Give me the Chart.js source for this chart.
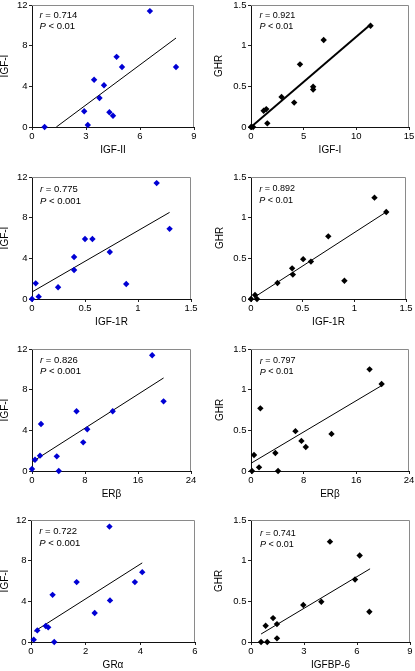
<!DOCTYPE html>
<html><head><meta charset="utf-8">
<script src="https://cdn.jsdelivr.net/npm/chart.js@4"></script>
<style>
html,body{margin:0;padding:0;background:#fff;overflow:hidden}
#wrap{position:relative;width:415px;height:671px;background:#fff}
canvas{position:absolute;left:0;top:0}
</style></head><body><div id="wrap"></div>
<script>
// ---------- data ----------
// Panel 1: IGF-I vs IGF-II
const p1X = [0.7, 6.55, 4.7, 5.0, 8.0, 3.45, 4.0, 3.75, 2.9, 4.3, 4.5, 3.1];
const p1Y = [0, 11.4, 6.9, 5.9, 5.9, 4.65, 4.1, 2.85, 1.55, 1.45, 1.1, 0.2];
const p1FitX = [1.35, 8.0];
const p1FitY = [0, 8.75];
// Panel 2: GHR vs IGF-I
const p2X = [11.35, 6.9, 4.65, 5.9, 5.9, 2.9, 4.1, 1.45, 1.2, 1.55, 0.2, 0.0];
const p2Y = [1.245, 1.07, 0.77, 0.495, 0.46, 0.37, 0.30, 0.22, 0.20, 0.045, 0, 0];
const p2FitX = [0, 11.35];
const p2FitY = [0, 1.26];
// Panel 3: IGF-I vs IGF-1R
const p3X = [1.176, 1.298, 0.50, 0.57, 0.734, 0.397, 0.397, 0.035, 0.889, 0.246, 0.063, 0.0];
const p3Y = [11.4, 6.9, 5.9, 5.9, 4.62, 4.13, 2.85, 1.54, 1.48, 1.15, 0.23, 0];
const p3FitX = [0, 1.298];
const p3FitY = [0.69, 8.52];
// Panel 4: GHR vs IGF-1R
const p4X = [1.195, 1.309, 0.748, 0.505, 0.58, 0.398, 0.405, 0.904, 0.256, 0.039, 0.058, 0];
const p4Y = [1.246, 1.07, 0.77, 0.49, 0.46, 0.377, 0.30, 0.225, 0.197, 0.049, 0, 0];
const p4FitX = [0.03, 1.309];
const p4FitY = [0.02, 1.07];
// Panel 5: IGF-I vs ERβ
const p5X = [18.14, 19.86, 6.72, 12.18, 1.36, 8.34, 7.73, 1.21, 3.74, 0.45, 0.0, 4.04];
const p5Y = [11.38, 6.85, 5.87, 5.87, 4.62, 4.10, 2.82, 1.51, 1.44, 1.11, 0.2, 0];
const p5FitX = [0.15, 19.86];
const p5FitY = [0.95, 9.15];
// Panel 6: GHR vs ERβ
const p6X = [18.01, 19.84, 1.42, 6.75, 12.23, 7.66, 8.32, 3.70, 0.46, 1.22, 4.11, 0.15];
const p6Y = [1.25, 1.07, 0.77, 0.49, 0.456, 0.37, 0.296, 0.222, 0.197, 0.045, 0, 0];
const p6FitX = [0, 19.84];
const p6FitY = [0.095, 1.05];
// Panel 7: IGF-I vs GRα
const p7X = [2.87, 4.07, 1.67, 3.80, 0.79, 2.89, 2.33, 0.54, 0.63, 0.23, 0.10, 0.85];
const p7Y = [11.35, 6.87, 5.89, 5.89, 4.64, 4.09, 2.85, 1.57, 1.44, 1.14, 0.23, 0];
const p7FitX = [0.13, 4.07];
const p7FitY = [1.05, 7.78];
// Panel 8: GHR vs IGFBP-6
const p8X = [4.47, 6.15, 5.89, 3.98, 2.96, 6.7, 1.25, 0.83, 1.47, 1.47, 0.57, 0.92];
const p8Y = [1.234, 1.063, 0.768, 0.494, 0.454, 0.372, 0.294, 0.2, 0.22, 0.045, 0, 0];
const p8FitX = [0.57, 6.74];
const p8FitY = [0.098, 0.9];

// tick labels
const ticksIGF2 = [0, 3, 6, 9];
const ticksIGF1y = [0, 4, 8, 12];
const ticksIGF1x = [0, 5, 10, 15];
const ticksGHR = [0, 0.5, 1, 1.5];
const ticksIGF1R = [0, 0.5, 1, 1.5];
const ticksERb = [0, 8, 16, 24];
const ticksGRa = [0, 2, 4, 6];
const ticksIGFBP6 = [0, 3, 6, 9];

// r / P annotations
const rVals = ['0.714', '0.921', '0.775', '0.892', '0.826', '0.797', '0.722', '0.741'];
const pVals = ['0.01', '0.01', '0.001', '0.01', '0.001', '0.01', '0.001', '0.01'];

// ---------- styling / layout ----------
const FONT = "'Liberation Sans', Arial, Helvetica, sans-serif";
const BLUE = '#0000d4';
const BLACK = '#000000';

const panels = [
  {xs:p1X, ys:p1Y, fx:p1FitX, fy:p1FitY, xt:ticksIGF2,  yt:ticksIGF1y, xTitle:'IGF-II',  yTitle:'IGF-I', color:BLUE,  area:[32,5,194,127],   yTitleX:5,     lw:1, annSize:9.5, ann:[7.5,10.8,21.8]},
  {xs:p2X, ys:p2Y, fx:p2FitX, fy:p2FitY, xt:ticksIGF1x, yt:ticksGHR,   xTitle:'IGF-I',   yTitle:'GHR',   color:BLACK, area:[251,5,409,127],  yTitleX:219.7, lw:2, annSize:9,   ann:[8.5,10.8,21.8]},
  {xs:p3X, ys:p3Y, fx:p3FitX, fy:p3FitY, xt:ticksIGF1R, yt:ticksIGF1y, xTitle:'IGF-1R',  yTitle:'IGF-I', color:BLUE,  area:[32,177,191,299], yTitleX:5,     lw:1, annSize:9.5, ann:[8,12.8,24]},
  {xs:p4X, ys:p4Y, fx:p4FitX, fy:p4FitY, xt:ticksIGF1R, yt:ticksGHR,   xTitle:'IGF-1R',  yTitle:'GHR',   color:BLACK, area:[251,177,406,299],yTitleX:220,   lw:1, annSize:9,   ann:[8.3,12,23.3]},
  {xs:p5X, ys:p5Y, fx:p5FitX, fy:p5FitY, xt:ticksERb,   yt:ticksIGF1y, xTitle:'ERβ',     yTitle:'IGF-I', color:BLUE,  area:[32,349,191,471], yTitleX:5,     lw:1, annSize:9.5, ann:[8,11.7,22.7]},
  {xs:p6X, ys:p6Y, fx:p6FitX, fy:p6FitY, xt:ticksERb,   yt:ticksGHR,   xTitle:'ERβ',     yTitle:'GHR',   color:BLACK, area:[251,349,409,471],yTitleX:220,   lw:1, annSize:9,   ann:[8.7,12,23]},
  {xs:p7X, ys:p7Y, fx:p7FitX, fy:p7FitY, xt:ticksGRa,   yt:ticksIGF1y, xTitle:'GRα',     yTitle:'IGF-I', color:BLUE,  area:[31,520,195,642], yTitleX:5,     lw:1, annSize:9.5, ann:[8.3,11,23]},
  {xs:p8X, ys:p8Y, fx:p8FitX, fy:p8FitY, xt:ticksIGFBP6,yt:ticksGHR,   xTitle:'IGFBP-6', yTitle:'GHR',   color:BLACK, area:[251,520,410,642],yTitleX:219.5, lw:1, annSize:9,   ann:[9,13.3,24.6]}
];

const framePlugin = {
  id: 'frame',
  beforeDatasetsDraw(chart) {
    const {ctx, chartArea: a} = chart;
    ctx.save();
    ctx.strokeStyle = '#8a8a8a';
    ctx.lineWidth = 1;
    ctx.beginPath();
    const t = Math.round(a.top) + 0.5, r = Math.round(a.right) - 0.5;
    ctx.moveTo(Math.round(a.left), t);
    ctx.lineTo(r, t);
    ctx.lineTo(r, Math.round(a.bottom));
    ctx.stroke();
    ctx.restore();
  }
};

function annPlugin(i, pn) {
  return {
    id: 'ann' + i,
    afterDraw(chart) {
      const {ctx, chartArea: a} = chart;
      const [dx, dy1, dy2] = pn.ann;
      const size = pn.annSize;
      ctx.save();
      ctx.fillStyle = '#000';
      ctx.textBaseline = 'middle';
      ctx.textAlign = 'left';
      const x = a.left + dx;
      ctx.font = `italic ${size}px ${FONT}`;
      ctx.fillText('r', x, a.top + dy1);
      let w = ctx.measureText('r').width;
      ctx.font = `${size}px ${FONT}`;
      ctx.fillText(' = ' + rVals[i], x + w, a.top + dy1);
      ctx.font = `italic ${size}px ${FONT}`;
      ctx.fillText('P', x, a.top + dy2);
      w = ctx.measureText('P').width;
      ctx.font = `${size}px ${FONT}`;
      ctx.fillText(' < ' + pVals[i], x + w, a.top + dy2);
      ctx.restore();
    }
  };
}

const wrap = document.getElementById('wrap');
const W = 415, H = 671;

panels.forEach((pn, i) => {
  const c = document.createElement('canvas');
  c.width = W; c.height = H;
  c.style.width = W + 'px'; c.style.height = H + 'px';
  wrap.appendChild(c);
  const [L, T, R, B] = pn.area;
  const xH = 28.7;
  const yPadLeft = Math.max(0, pn.yTitleX - 5);
  const yW = L - yPadLeft;
  const zeroPad = s => { s.paddingLeft = 0; s.paddingRight = 0; s.paddingTop = 0; s.paddingBottom = 0; };
  new Chart(c, {
    type: 'scatter',
    data: {
      datasets: [
        {
          type: 'line',
          data: pn.fx.map((x, k) => ({x, y: pn.fy[k]})),
          borderColor: '#000', borderWidth: pn.lw, pointRadius: 0, fill: false, tension: 0, order: 1
        },
        {
          data: pn.xs.map((x, k) => ({x, y: pn.ys[k]})),
          pointStyle: 'rectRot', pointRadius: 3.2, backgroundColor: pn.color,
          borderColor: pn.color, borderWidth: 0, clip: false, order: 0
        }
      ]
    },
    options: {
      responsive: false, animation: false, events: [],
      devicePixelRatio: 1,
      layout: {padding: {left: yPadLeft, top: T, right: W - R, bottom: H - B - xH}},
      plugins: {legend: {display: false}, tooltip: {enabled: false}},
      scales: {
        x: {
          type: 'linear', position: 'bottom',
          min: pn.xt[0], max: pn.xt[pn.xt.length - 1],
          afterBuildTicks: s => { s.ticks = pn.xt.map(v => ({value: v})); },
          afterFit: s => { s.height = xH; zeroPad(s); },
          grid: {display: true, drawOnChartArea: false, drawTicks: true, tickLength: 3, color: '#222', lineWidth: 1},
          border: {display: true, color: '#111', width: 1},
          ticks: {padding: 1, color: '#000', font: {family: FONT, size: 9.5}, maxRotation: 0, autoSkip: false, callback: v => String(v)},
          title: {display: true, text: pn.xTitle, color: '#000', font: {family: FONT, size: 10, lineHeight: 1}, padding: 0}
        },
        y: {
          type: 'linear', position: 'left',
          min: pn.yt[0], max: pn.yt[pn.yt.length - 1],
          afterBuildTicks: s => { s.ticks = pn.yt.map(v => ({value: v})); },
          afterFit: s => { s.width = yW; zeroPad(s); },
          grid: {display: true, drawOnChartArea: false, drawTicks: true, tickLength: 3, color: '#222', lineWidth: 1},
          border: {display: true, color: '#111', width: 1},
          ticks: {padding: 1.5, color: '#000', font: {family: FONT, size: 9.5}, autoSkip: false, callback: v => String(v)},
          title: {display: true, text: pn.yTitle, color: '#000', font: {family: FONT, size: 10, lineHeight: 1}, padding: {top: pn.yTitleX - 5 - yPadLeft, bottom: 0}}
        }
      }
    },
    plugins: [framePlugin, annPlugin(i, pn)]
  });
});
</script>
</body></html>
